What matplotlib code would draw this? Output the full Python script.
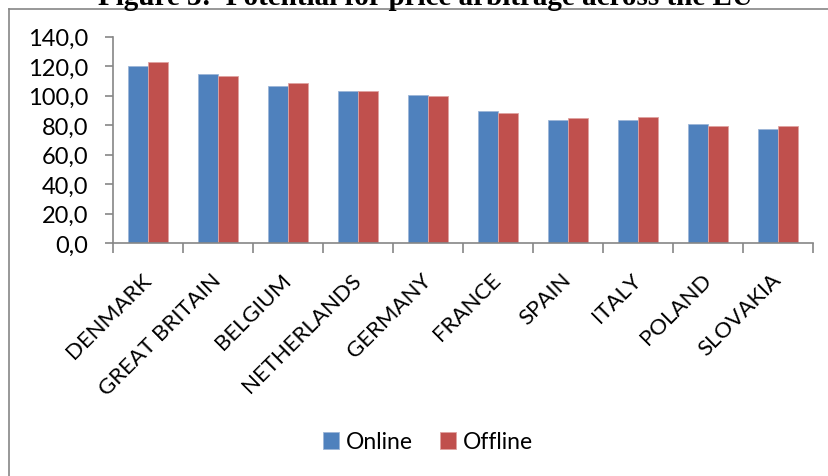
import numpy as np
import matplotlib.pyplot as plt
from matplotlib.lines import Line2D

countries = ["DENMARK", "GREAT BRITAIN", "BELGIUM", "NETHERLANDS", "GERMANY",
             "FRANCE", "SPAIN", "ITALY", "POLAND", "SLOVAKIA"]
online = [120.3, 114.4, 106.7, 103.1, 100.2, 89.6, 83.4, 83.2, 80.5, 77.3]
offline = [122.5, 113.0, 108.8, 103.1, 99.7, 88.0, 84.6, 85.5, 79.2, 79.2]
y_ticks = [0, 20, 40, 60, 80, 100, 120, 140]

BLUE = "#4F81BD"
RED = "#C0504D"
GRAY = "#868686"
FONT = "Lato"

W, H = 829, 477
fig = plt.figure(figsize=(W / 100, H / 100), dpi=100)
ax = fig.add_axes([113 / W, 1 - 244 / H, 700 / W, (244 - 37.7) / H])

x = np.arange(len(countries))
bw = 0.286
ax.bar(x - bw / 2, online, bw, color=BLUE, edgecolor="#9DB6D8", linewidth=0.6, label="Online")
ax.bar(x + bw / 2, offline, bw, color=RED, edgecolor="#E0A3A1", linewidth=0.6, label="Offline")

ax.set_xlim(-0.5, len(countries) - 0.5)
ax.set_ylim(0, 140)
ax.set_yticks(y_ticks)
ax.set_yticklabels([f"{v:.1f}".replace(".", ",") for v in y_ticks],
                   fontsize=17, family=FONT)
ax.tick_params(axis="y", length=6, color=GRAY, width=1.2, pad=12)

ax.set_xticks(x)
ax.set_xticklabels(countries, rotation=45, ha="right", va="center",
                   rotation_mode="anchor", fontsize=16, family=FONT)
ax.tick_params(axis="x", which="major", length=0, pad=24)
ax.set_xticks(np.arange(len(countries) + 1) - 0.5, minor=True)
ax.tick_params(axis="x", which="minor", length=7, color=GRAY, width=1.2)

for s in ["top", "right"]:
    ax.spines[s].set_visible(False)
for s in ["left", "bottom"]:
    ax.spines[s].set_color(GRAY)
    ax.spines[s].set_linewidth(1.2)

ax.legend(loc="center", bbox_to_anchor=(428 / W, 1 - 443 / H),
          bbox_transform=fig.transFigure, ncol=2, frameon=False,
          prop={"family": FONT, "size": 16.5}, handlelength=0.7, handleheight=0.7,
          handletextpad=0.3, columnspacing=1.2)

# chart area border, partly cut by the image edge
fig.add_artist(Line2D([9 / W, 1], [1 - 9.5 / H, 1 - 9.5 / H], color=GRAY, lw=1.2))
fig.add_artist(Line2D([9 / W, 9 / W], [0, 1 - 9.5 / H], color=GRAY, lw=1.2))

# title sits above the captured region, only its lower part shows
fig.text(425 / W, 1 - 5 / H, "Figure 3:  Potential for price arbitrage across the EU",
         ha="center", va="baseline", fontsize=21, fontweight="bold",
         family="Liberation Serif")

fig.savefig("out.png", dpi=100)
